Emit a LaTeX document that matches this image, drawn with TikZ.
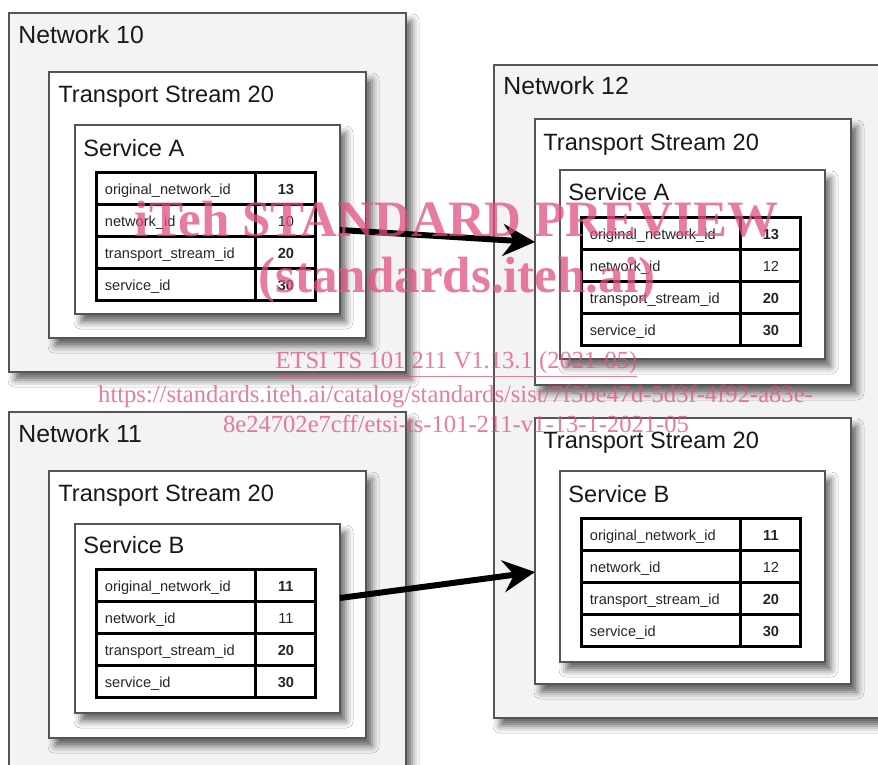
\documentclass[tikz,border=0pt]{standalone}
\usepackage{fontspec}
\setmainfont{Liberation Sans}
\newfontfamily\wmfont{Liberation Serif}
\usetikzlibrary{fit,matrix,arrows.meta,shadows.blur}

\definecolor{netgray}{RGB}{243,243,243}
\definecolor{boxline}{RGB}{85,85,85}
\definecolor{wmpink}{RGB}{225,80,130}

\tikzset{
  netbox/.style={draw=boxline, line width=1pt, fill=netgray, inner sep=0pt, outer sep=0pt,
    blur shadow={shadow xshift=3pt, shadow yshift=-4pt, shadow blur radius=3.5pt, shadow opacity=60}},
  inbox/.style={netbox, fill=white},
  boxlabel/.style={anchor=base west, inner sep=0pt, text=black!90, font=\fontsize{11.8}{14}\selectfont},
  netlabel/.style={boxlabel, font=\fontsize{12.4}{14}\selectfont},
  idtable/.style={matrix of nodes, inner sep=0pt, column sep=-1.5pt, row sep=-1.5pt, anchor=north west,
    nodes={draw, line width=1.5pt, fill=white, outer sep=0pt, minimum height=16pt,
      text height=7.5pt, text depth=1.5pt, text=black!85, font=\fontsize{7.3}{9}\selectfont},
    column 1/.style={nodes={text width=71.5pt, inner xsep=4pt, align=left}},
    column 2/.style={nodes={minimum width=30pt, inner xsep=0pt, font=\fontsize{7.3}{9}\selectfont\bfseries}}},
  plainval/.style={font=\fontsize{7.3}{9}\selectfont},
  wmtext/.style={text=wmpink, text opacity=.75, inner sep=0pt, anchor=base}
}

\begin{document}
\begin{tikzpicture}[x=0.5pt, y=-0.5pt]

  \path[use as bounding box, fill=white] (0,0) rectangle (878,765);
  \clip (0,0) rectangle (878,765);

  % networks
  \node[netbox, fit={(9,13) (406,372)}]  (net10) {};
  \node[netbox, fit={(9,412) (406,800)}] (net11) {};
  \node[netbox, fit={(494,65) (900,718)}] (net12) {};

  % transport streams and services
  \node[inbox, fit={(49,72) (366,338)}]   (tsL1)  {};
  \node[inbox, fit={(75,125) (340,314)}]  (svcL1) {};
  \node[inbox, fit={(49,471) (366,738)}]  (tsL2)  {};
  \node[inbox, fit={(75,524) (340,713)}]  (svcL2) {};
  \node[inbox, fit={(535,119) (851,385)}] (tsR1)  {};
  \node[inbox, fit={(560,170) (825,359)}] (svcR1) {};
  \node[inbox, fit={(535,418) (851,684)}] (tsR2)  {};
  \node[inbox, fit={(560,471) (825,662)}] (svcR2) {};

  \begin{scope}[every node/.style={boxlabel}]
    \node[netlabel] (net10lbl) at (18,44)  {Network 10};
    \node[netlabel] (net11lbl) at (18,442) {Network 11};
    \node[netlabel] (net12lbl) at (503,95) {Network 12};
    \node (tsL1lbl)  at (58,103)  {Transport Stream 20};
    \node (tsL2lbl)  at (58,501)  {Transport Stream 20};
    \node (tsR1lbl)  at (543,150) {Transport Stream 20};
    \node (tsR2lbl)  at (543,448) {Transport Stream 20};
    \node (svcL1lbl) at (83,156)  {Service A};
    \node (svcL2lbl) at (83,553)  {Service B};
    \node (svcR1lbl) at (568,200) {Service A};
    \node (svcR2lbl) at (568,502) {Service B};
  \end{scope}

  % id tables
  \matrix[idtable] (tabL1) at (95,171) {
    original\_network\_id & 13 \\
    network\_id & |[plainval]| 10 \\
    transport\_stream\_id & 20 \\
    service\_id & 30 \\
  };
  \matrix[idtable] (tabL2) at (95,568) {
    original\_network\_id & 11 \\
    network\_id & |[plainval]| 11 \\
    transport\_stream\_id & 20 \\
    service\_id & 30 \\
  };
  \matrix[idtable] (tabR1) at (580,216) {
    original\_network\_id & 13 \\
    network\_id & |[plainval]| 12 \\
    transport\_stream\_id & 20 \\
    service\_id & 30 \\
  };
  \matrix[idtable] (tabR2) at (580,517) {
    original\_network\_id & 11 \\
    network\_id & |[plainval]| 12 \\
    transport\_stream\_id & 20 \\
    service\_id & 30 \\
  };

  \begin{scope}[every edge/.style={draw, line width=3pt, -{Stealth[length=16pt, width=16pt, inset=5.5pt]}}]
    \path ([yshift=-5.25pt]svcL1.east) edge ([yshift=5pt]tsR1.west);
    \path ([yshift=10.25pt]svcL2.east) edge ([yshift=-10.5pt]tsR2.west);
  \end{scope}

  % watermark
  \begin{scope}[every node/.style={wmtext}]
    \node[font=\wmfont\bfseries\fontsize{25.5}{30}\selectfont] (wm1) at (456.5,236) {iTeh STANDARD PREVIEW};
    \node[font=\wmfont\bfseries\fontsize{25.5}{30}\selectfont] (wm2) at (457,292) {(standards.iteh.ai)};
    \node[font=\wmfont\fontsize{12.3}{15}\selectfont] (wm3) at (456.5,368) {\underline{ETSI TS 101 211 V1.13.1 (2021-05)}};
    \node[font=\wmfont\fontsize{12.3}{15}\selectfont] (wm4) at (455.5,402) {https://standards.iteh.ai/catalog/standards/sist/7f5be47d-5d3f-4f92-a83e-};
    \node[font=\wmfont\fontsize{12.3}{15}\selectfont] (wm5) at (456,432) {8e24702e7cff/etsi-ts-101-211-v1-13-1-2021-05};
  \end{scope}

\end{tikzpicture}
\end{document}
